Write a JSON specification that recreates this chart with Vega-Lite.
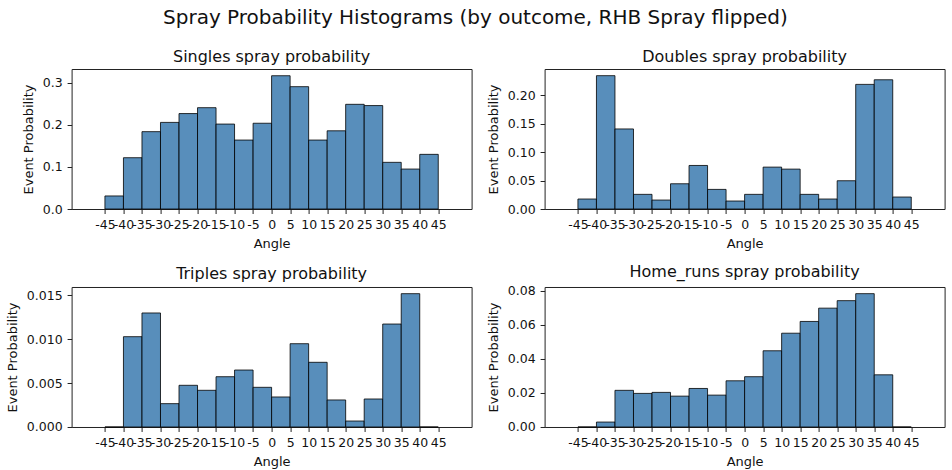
{
  "$schema": "https://vega.github.io/schema/vega-lite/v6.json",
  "title": {
    "text": "Spray Probability Histograms (by outcome, RHB Spray flipped)",
    "fontSize": 20,
    "fontWeight": "normal",
    "anchor": "middle",
    "offset": 20.5
  },
  "padding": {"left": 5.6, "top": 7, "right": 5, "bottom": 5},
  "data": {
    "values": [
      {"outcome": "Singles", "lo": -45, "hi": -40, "p": 0.031},
      {"outcome": "Singles", "lo": -40, "hi": -35, "p": 0.122},
      {"outcome": "Singles", "lo": -35, "hi": -30, "p": 0.184},
      {"outcome": "Singles", "lo": -30, "hi": -25, "p": 0.206},
      {"outcome": "Singles", "lo": -25, "hi": -20, "p": 0.227},
      {"outcome": "Singles", "lo": -20, "hi": -15, "p": 0.241},
      {"outcome": "Singles", "lo": -15, "hi": -10, "p": 0.202},
      {"outcome": "Singles", "lo": -10, "hi": -5, "p": 0.164},
      {"outcome": "Singles", "lo": -5, "hi": 0, "p": 0.204},
      {"outcome": "Singles", "lo": 0, "hi": 5, "p": 0.317},
      {"outcome": "Singles", "lo": 5, "hi": 10, "p": 0.291},
      {"outcome": "Singles", "lo": 10, "hi": 15, "p": 0.164},
      {"outcome": "Singles", "lo": 15, "hi": 20, "p": 0.186},
      {"outcome": "Singles", "lo": 20, "hi": 25, "p": 0.249},
      {"outcome": "Singles", "lo": 25, "hi": 30, "p": 0.246},
      {"outcome": "Singles", "lo": 30, "hi": 35, "p": 0.111},
      {"outcome": "Singles", "lo": 35, "hi": 40, "p": 0.095},
      {"outcome": "Singles", "lo": 40, "hi": 45, "p": 0.130},
      {"outcome": "Doubles", "lo": -45, "hi": -40, "p": 0.0175},
      {"outcome": "Doubles", "lo": -40, "hi": -35, "p": 0.234},
      {"outcome": "Doubles", "lo": -35, "hi": -30, "p": 0.1405},
      {"outcome": "Doubles", "lo": -30, "hi": -25, "p": 0.0257},
      {"outcome": "Doubles", "lo": -25, "hi": -20, "p": 0.0157},
      {"outcome": "Doubles", "lo": -20, "hi": -15, "p": 0.0443},
      {"outcome": "Doubles", "lo": -15, "hi": -10, "p": 0.0764},
      {"outcome": "Doubles", "lo": -10, "hi": -5, "p": 0.0344},
      {"outcome": "Doubles", "lo": -5, "hi": 0, "p": 0.014},
      {"outcome": "Doubles", "lo": 0, "hi": 5, "p": 0.0257},
      {"outcome": "Doubles", "lo": 5, "hi": 10, "p": 0.0735},
      {"outcome": "Doubles", "lo": 10, "hi": 15, "p": 0.070},
      {"outcome": "Doubles", "lo": 15, "hi": 20, "p": 0.0257},
      {"outcome": "Doubles", "lo": 20, "hi": 25, "p": 0.0175},
      {"outcome": "Doubles", "lo": 25, "hi": 30, "p": 0.0496},
      {"outcome": "Doubles", "lo": 30, "hi": 35, "p": 0.2187},
      {"outcome": "Doubles", "lo": 35, "hi": 40, "p": 0.2268},
      {"outcome": "Doubles", "lo": 40, "hi": 45, "p": 0.021},
      {"outcome": "Triples", "lo": -45, "hi": -40, "p": 0},
      {"outcome": "Triples", "lo": -40, "hi": -35, "p": 0.01029},
      {"outcome": "Triples", "lo": -35, "hi": -30, "p": 0.01299},
      {"outcome": "Triples", "lo": -30, "hi": -25, "p": 0.00266},
      {"outcome": "Triples", "lo": -25, "hi": -20, "p": 0.00475},
      {"outcome": "Triples", "lo": -20, "hi": -15, "p": 0.00418},
      {"outcome": "Triples", "lo": -15, "hi": -10, "p": 0.00573},
      {"outcome": "Triples", "lo": -10, "hi": -5, "p": 0.00649},
      {"outcome": "Triples", "lo": -5, "hi": 0, "p": 0.00452},
      {"outcome": "Triples", "lo": 0, "hi": 5, "p": 0.00342},
      {"outcome": "Triples", "lo": 5, "hi": 10, "p": 0.00949},
      {"outcome": "Triples", "lo": 10, "hi": 15, "p": 0.00737},
      {"outcome": "Triples", "lo": 15, "hi": 20, "p": 0.00308},
      {"outcome": "Triples", "lo": 20, "hi": 25, "p": 0.00068},
      {"outcome": "Triples", "lo": 25, "hi": 30, "p": 0.00319},
      {"outcome": "Triples", "lo": 30, "hi": 35, "p": 0.01173},
      {"outcome": "Triples", "lo": 35, "hi": 40, "p": 0.01519},
      {"outcome": "Triples", "lo": 40, "hi": 45, "p": 0},
      {"outcome": "Home_runs", "lo": -45, "hi": -40, "p": 0},
      {"outcome": "Home_runs", "lo": -40, "hi": -35, "p": 0.0029},
      {"outcome": "Home_runs", "lo": -35, "hi": -30, "p": 0.0215},
      {"outcome": "Home_runs", "lo": -30, "hi": -25, "p": 0.0197},
      {"outcome": "Home_runs", "lo": -25, "hi": -20, "p": 0.0203},
      {"outcome": "Home_runs", "lo": -20, "hi": -15, "p": 0.0181},
      {"outcome": "Home_runs", "lo": -15, "hi": -10, "p": 0.0226},
      {"outcome": "Home_runs", "lo": -10, "hi": -5, "p": 0.0187},
      {"outcome": "Home_runs", "lo": -5, "hi": 0, "p": 0.0271},
      {"outcome": "Home_runs", "lo": 0, "hi": 5, "p": 0.0295},
      {"outcome": "Home_runs", "lo": 5, "hi": 10, "p": 0.0447},
      {"outcome": "Home_runs", "lo": 10, "hi": 15, "p": 0.055},
      {"outcome": "Home_runs", "lo": 15, "hi": 20, "p": 0.0619},
      {"outcome": "Home_runs", "lo": 20, "hi": 25, "p": 0.0697},
      {"outcome": "Home_runs", "lo": 25, "hi": 30, "p": 0.0741},
      {"outcome": "Home_runs", "lo": 30, "hi": 35, "p": 0.0782},
      {"outcome": "Home_runs", "lo": 35, "hi": 40, "p": 0.0306},
      {"outcome": "Home_runs", "lo": 40, "hi": 45, "p": 0}
    ]
  },
  "columns": 2,
  "bounds": "flush",
  "spacing": {"row": 78, "column": 73},
  "concat": [
    {
      "title": "Singles spray probability",
      "width": 400,
      "height": 140,
      "transform": [{"filter": "datum.outcome === 'Singles'"}],
      "mark": {"type": "rect", "fill": "#4682b4", "fillOpacity": 0.9, "stroke": "#000", "strokeWidth": 1, "strokeOpacity": 0.8},
      "encoding": {
        "x": {"field": "lo", "type": "quantitative", "scale": {"domain": [-54, 54], "nice": false, "zero": false},
              "axis": {"title": "Angle", "values": [-45, -40, -35, -30, -25, -20, -15, -10, -5, 0, 5, 10, 15, 20, 25, 30, 35, 40, 45], "labelExpr": "'' + datum.value"}},
        "x2": {"field": "hi"},
        "y": {"field": "p", "type": "quantitative", "scale": {"domain": [0, 0.333], "nice": false},
              "axis": {"title": "Event Probability", "values": [0, 0.1, 0.2, 0.3], "format": ".1f"}},
        "y2": {"datum": 0}
      }
    },
    {
      "title": "Doubles spray probability",
      "width": 400,
      "height": 140,
      "transform": [{"filter": "datum.outcome === 'Doubles'"}],
      "mark": {"type": "rect", "fill": "#4682b4", "fillOpacity": 0.9, "stroke": "#000", "strokeWidth": 1, "strokeOpacity": 0.8},
      "encoding": {
        "x": {"field": "lo", "type": "quantitative", "scale": {"domain": [-54, 54], "nice": false, "zero": false},
              "axis": {"title": "Angle", "values": [-45, -40, -35, -30, -25, -20, -15, -10, -5, 0, 5, 10, 15, 20, 25, 30, 35, 40, 45], "labelExpr": "'' + datum.value"}},
        "x2": {"field": "hi"},
        "y": {"field": "p", "type": "quantitative", "scale": {"domain": [0, 0.2457], "nice": false},
              "axis": {"title": "Event Probability", "values": [0, 0.05, 0.1, 0.15, 0.2], "format": ".2f"}},
        "y2": {"datum": 0}
      }
    },
    {
      "title": "Triples spray probability",
      "width": 400,
      "height": 140,
      "transform": [{"filter": "datum.outcome === 'Triples'"}],
      "mark": {"type": "rect", "fill": "#4682b4", "fillOpacity": 0.9, "stroke": "#000", "strokeWidth": 1, "strokeOpacity": 0.8},
      "encoding": {
        "x": {"field": "lo", "type": "quantitative", "scale": {"domain": [-54, 54], "nice": false, "zero": false},
              "axis": {"title": "Angle", "values": [-45, -40, -35, -30, -25, -20, -15, -10, -5, 0, 5, 10, 15, 20, 25, 30, 35, 40, 45], "labelExpr": "'' + datum.value"}},
        "x2": {"field": "hi"},
        "y": {"field": "p", "type": "quantitative", "scale": {"domain": [0, 0.01595], "nice": false},
              "axis": {"title": "Event Probability", "values": [0, 0.005, 0.01, 0.015], "format": ".3f"}},
        "y2": {"datum": 0}
      }
    },
    {
      "title": "Home_runs spray probability",
      "width": 400,
      "height": 140,
      "transform": [{"filter": "datum.outcome === 'Home_runs'"}],
      "mark": {"type": "rect", "fill": "#4682b4", "fillOpacity": 0.9, "stroke": "#000", "strokeWidth": 1, "strokeOpacity": 0.8},
      "encoding": {
        "x": {"field": "lo", "type": "quantitative", "scale": {"domain": [-54, 54], "nice": false, "zero": false},
              "axis": {"title": "Angle", "values": [-45, -40, -35, -30, -25, -20, -15, -10, -5, 0, 5, 10, 15, 20, 25, 30, 35, 40, 45], "labelExpr": "'' + datum.value"}},
        "x2": {"field": "hi"},
        "y": {"field": "p", "type": "quantitative", "scale": {"domain": [0, 0.0821], "nice": false},
              "axis": {"title": "Event Probability", "values": [0, 0.02, 0.04, 0.06, 0.08], "format": ".2f"}},
        "y2": {"datum": 0}
      }
    }
  ],
  "config": {
    "font": "DejaVu Sans",
    "background": "white",
    "view": {"stroke": "#222", "strokeWidth": 1},
    "title": {"fontSize": 16, "fontWeight": "normal", "color": "#111", "offset": 4.5, "anchor": "middle"},
    "axis": {
      "grid": false,
      "domain": false,
      "tickColor": "#222",
      "tickSize": 4.5,
      "tickWidth": 1,
      "labelColor": "#111",
      "labelFontSize": 12.5,
      "labelPadding": 5,
      "labelOverlap": false,
      "labelFlush": false,
      "titleColor": "#111",
      "titleFontSize": 13,
      "titleFontWeight": "normal",
      "titlePadding": 7
    }
  }
}
